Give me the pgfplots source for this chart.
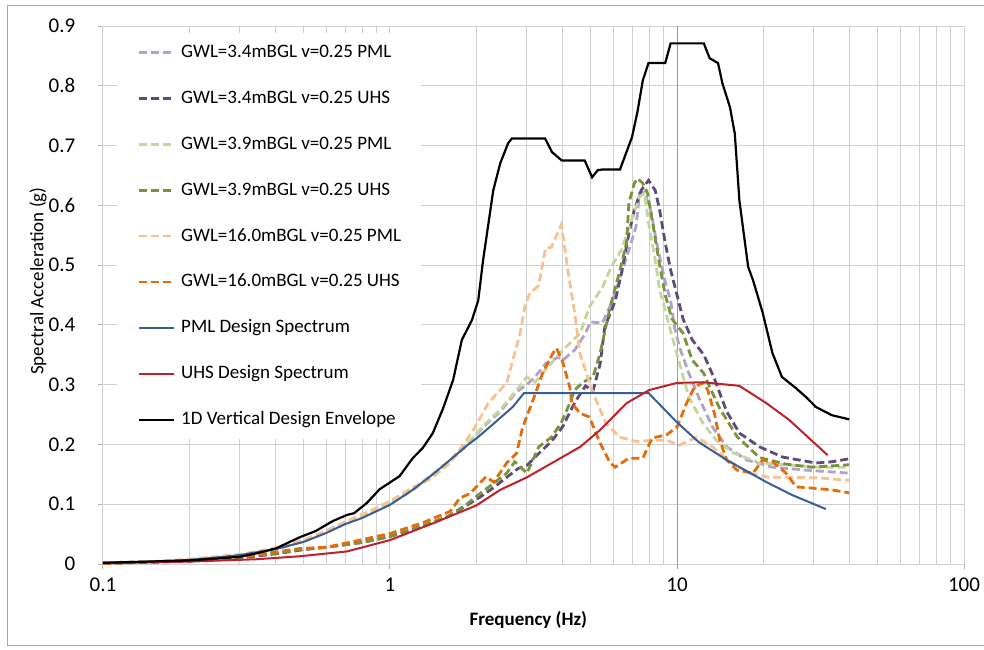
\documentclass[border=0pt]{standalone}
\usepackage{pgfplots}
\pgfplotsset{compat=1.18}
\usepackage{fontspec}
\setmainfont{Carlito}
\definecolor{lpurple}{HTML}{B3A2C7}
\definecolor{dpurple}{HTML}{604A7B}
\definecolor{lgreen}{HTML}{C3D69B}
\definecolor{dgreen}{HTML}{77933C}
\definecolor{lorange}{HTML}{FAC090}
\definecolor{dorange}{HTML}{E46C0A}
\definecolor{pmlblue}{HTML}{376092}
\definecolor{uhsred}{HTML}{C0202A}
\definecolor{gridc}{HTML}{D0D0D0}
\begin{document}
\fontsize{9.5}{11.4}\selectfont
\begin{tikzpicture}
\begin{axis}[
 xmode=log, scale only axis, width=430.5pt, height=269pt,
 xmin=0.1, xmax=100, ymin=0, ymax=0.9,
 xtick={0.1,1,10,100}, xticklabels={0.1,1,10,100},
 minor xtick={0.2,0.3,0.4,0.5,0.6,0.7,0.8,0.9,2,3,4,5,6,7,8,9,20,30,40,50,60,70,80,90},
 extra x ticks={10}, extra x tick labels={}, extra x tick style={grid=major, major grid style={draw=gray!80, line width=0.5pt}, tick style={draw=gray!80}},
 ytick={0,0.1,0.2,0.3,0.4,0.5,0.6,0.7,0.8,0.9},
 yticklabels={0,0.1,0.2,0.3,0.4,0.5,0.6,0.7,0.8,0.9},
 xmajorgrids, xminorgrids, ymajorgrids,
 grid style={draw=gridc, line width=0.5pt},
 minor grid style={draw=gridc, line width=0.5pt},
 axis line style={draw=gridc, line width=0.5pt},
 tick align=outside, xtick pos=bottom, ytick pos=left,
 major tick length=2.5pt, minor tick length=0pt,
 tick style={draw=gray!60, line width=0.5pt},
 ticklabel style={font=\fontsize{10.5}{12}\selectfont},
 /pgf/number format/assume math mode=true,
 yticklabel style={xshift=-8pt},
 xticklabel style={yshift=-1pt},
 xlabel={\textbf{Frequency (Hz)}}, ylabel={Spectral Acceleration (g)},
 xlabel style={at={(axis description cs:0.494,-0.104)}, anchor=center, font=\fontsize{9.5}{11}\selectfont},
 ylabel style={at={(axis description cs:-0.0755,0.526)}, anchor=center, font=\fontsize{9.5}{11}\selectfont},
 legend style={at={(axis description cs:0,1)}, anchor=north west, xshift=7pt, yshift=-3.5pt,
   fill=white, draw=none, inner xsep=10pt, inner ysep=5pt, row sep=13.95pt, column sep=3pt,
   nodes={inner sep=0pt, text height=7pt, text depth=2pt, font=\fontsize{9.5}{11}\selectfont}},
 legend cell align=left,
 legend image code/.code={\draw[#1, line cap=butt] (0pt,0pt) -- (17.5pt,0pt);},
 dsh/.style={line width=1.4pt, dash pattern=on 4pt off 2pt, line cap=butt},
]
% GWL=3.4 PML
\addplot[dsh, lpurple] coordinates {(0.1,0.002)(0.15,0.004)(0.2,0.007)(0.3,0.015)(0.4,0.025)(0.5,0.038)(0.6,0.053)(0.7,0.068)(0.8,0.079)(1.0,0.100)(1.2,0.124)(1.4,0.148)(1.6,0.170)(1.85,0.198)(2.1,0.228)(2.42,0.255)(2.76,0.288)(3.0,0.300)(3.2,0.313)(3.5,0.336)(3.85,0.346)(4.0,0.341)(4.4,0.358)(4.8,0.386)(5.0,0.405)(5.5,0.403)(5.9,0.436)(6.3,0.475)(6.67,0.513)(6.97,0.542)(7.2,0.564)(7.4,0.620)(7.7,0.622)(8.1,0.592)(8.5,0.537)(8.9,0.492)(9.2,0.463)(9.5,0.441)(9.8,0.396)(10.2,0.363)(11.0,0.319)(11.9,0.279)(13.3,0.229)(14.9,0.196)(17.5,0.174)(21.5,0.162)(28.2,0.157)(39.8,0.152)};
\addlegendentry{GWL=3.4mBGL v=0.25 PML}
% GWL=3.4 UHS
\addplot[dsh, dpurple] coordinates {(0.1,0.001)(0.2,0.005)(0.3,0.010)(0.4,0.017)(0.5,0.024)(0.6,0.028)(0.8,0.036)(1.0,0.046)(1.3,0.063)(1.6,0.080)(1.85,0.098)(2.06,0.112)(2.3,0.128)(2.55,0.145)(2.8,0.160)(3.0,0.165)(3.3,0.185)(3.65,0.205)(4.0,0.230)(4.4,0.270)(4.8,0.298)(5.1,0.290)(5.4,0.335)(5.6,0.396)(6.1,0.441)(6.4,0.486)(6.8,0.553)(7.1,0.592)(7.5,0.625)(7.96,0.642)(8.4,0.625)(8.7,0.592)(9.1,0.537)(9.5,0.492)(10.0,0.450)(10.5,0.410)(11.3,0.375)(12.4,0.350)(13.5,0.310)(14.9,0.255)(16.5,0.219)(19.4,0.196)(23.3,0.179)(30.4,0.169)(34.6,0.171)(39.8,0.176)};
\addlegendentry{GWL=3.4mBGL v=0.25 UHS}
% GWL=3.9 PML
\addplot[dsh, lgreen] coordinates {(0.1,0.002)(0.15,0.004)(0.2,0.007)(0.3,0.015)(0.4,0.025)(0.5,0.038)(0.6,0.053)(0.7,0.068)(0.8,0.080)(1.0,0.101)(1.2,0.125)(1.4,0.150)(1.6,0.172)(1.85,0.200)(2.1,0.230)(2.42,0.258)(2.76,0.291)(3.0,0.313)(3.2,0.304)(3.65,0.336)(4.0,0.358)(4.6,0.386)(4.95,0.430)(5.5,0.463)(5.9,0.497)(6.4,0.525)(7.0,0.580)(7.4,0.614)(7.7,0.620)(8.0,0.564)(8.4,0.508)(8.7,0.458)(9.1,0.425)(9.5,0.390)(10.2,0.336)(11.0,0.279)(12.3,0.236)(13.7,0.207)(15.7,0.186)(19.4,0.169)(24.0,0.166)(31.2,0.162)(39.8,0.162)};
\addlegendentry{GWL=3.9mBGL v=0.25 PML}
% GWL=3.9 UHS
\addplot[dsh, dgreen] coordinates {(0.1,0.001)(0.2,0.005)(0.3,0.011)(0.4,0.018)(0.5,0.025)(0.6,0.028)(0.8,0.036)(1.0,0.046)(1.3,0.064)(1.6,0.080)(1.85,0.100)(2.06,0.118)(2.3,0.135)(2.55,0.152)(2.72,0.171)(3.0,0.152)(3.3,0.196)(3.65,0.212)(3.95,0.236)(4.23,0.269)(4.4,0.291)(4.7,0.304)(5.1,0.313)(5.4,0.353)(5.85,0.430)(6.33,0.492)(6.67,0.537)(6.8,0.604)(7.1,0.637)(7.3,0.645)(7.6,0.637)(7.9,0.620)(8.3,0.560)(8.7,0.500)(9.1,0.450)(9.6,0.410)(10.5,0.386)(11.3,0.341)(12.4,0.319)(13.0,0.296)(14.1,0.260)(16.2,0.213)(19.4,0.178)(24.0,0.167)(29.5,0.162)(39.8,0.166)};
\addlegendentry{GWL=3.9mBGL v=0.25 UHS}
% GWL=16.0 PML
\addplot[dsh, lorange] coordinates {(0.1,0.002)(0.15,0.004)(0.2,0.008)(0.3,0.016)(0.4,0.027)(0.5,0.040)(0.6,0.056)(0.7,0.071)(0.8,0.083)(1.0,0.105)(1.2,0.128)(1.38,0.142)(1.62,0.169)(1.78,0.196)(1.98,0.229)(2.2,0.269)(2.42,0.291)(2.55,0.303)(2.68,0.341)(2.84,0.386)(2.95,0.430)(3.07,0.453)(3.3,0.466)(3.48,0.528)(3.65,0.530)(3.95,0.567)(4.06,0.530)(4.2,0.480)(4.4,0.420)(4.6,0.350)(5.1,0.286)(5.66,0.235)(6.33,0.212)(7.2,0.205)(8.2,0.207)(9.2,0.207)(10.2,0.199)(11.7,0.212)(13.3,0.196)(15.3,0.171)(17.9,0.152)(21.0,0.145)(26.0,0.145)(31.2,0.144)(39.8,0.140)};
\addlegendentry{GWL=16.0mBGL v=0.25 PML}
% GWL=16.0 UHS
\addplot[dsh, dorange] coordinates {(0.1,0.001)(0.2,0.005)(0.3,0.012)(0.4,0.020)(0.486,0.026)(0.6,0.028)(0.786,0.040)(1.0,0.051)(1.3,0.069)(1.62,0.088)(1.75,0.110)(1.9,0.118)(2.16,0.146)(2.3,0.137)(2.55,0.169)(2.76,0.185)(2.9,0.229)(3.15,0.274)(3.4,0.319)(3.7,0.353)(3.8,0.361)(3.98,0.341)(4.23,0.296)(4.3,0.269)(4.6,0.252)(4.95,0.246)(5.4,0.202)(5.85,0.169)(6.1,0.162)(6.8,0.177)(7.6,0.177)(8.2,0.211)(9.2,0.216)(10.0,0.229)(10.8,0.269)(11.5,0.296)(12.3,0.303)(12.8,0.291)(13.5,0.252)(14.1,0.207)(14.9,0.174)(16.2,0.157)(18.4,0.152)(19.9,0.174)(21.5,0.171)(24.0,0.152)(26.0,0.129)(29.5,0.127)(34.6,0.124)(39.8,0.119)};
\addlegendentry{GWL=16.0mBGL v=0.25 UHS}
% PML design
\addplot[pmlblue, line width=1pt] coordinates {(0.1,0.002)(0.15,0.004)(0.2,0.007)(0.25,0.011)(0.3,0.015)(0.4,0.025)(0.5,0.037)(0.6,0.052)(0.7,0.067)(0.8,0.077)(1.0,0.099)(1.2,0.124)(1.41,0.150)(1.6,0.172)(1.85,0.198)(2.0,0.210)(2.3,0.235)(2.68,0.263)(2.93,0.286)(7.96,0.286)(10,0.237)(11.9,0.204)(14.9,0.174)(20.5,0.137)(25.3,0.115)(33,0.092)};
\addlegendentry{PML Design Spectrum}
% UHS design
\addplot[uhsred, line width=1pt] coordinates {(0.1,0.001)(0.2,0.004)(0.344,0.008)(0.486,0.013)(0.708,0.021)(1.0,0.040)(1.41,0.068)(2.0,0.098)(2.42,0.124)(3.0,0.145)(4.6,0.196)(5.39,0.224)(6.67,0.269)(8.0,0.291)(10,0.303)(12.4,0.304)(16.5,0.298)(20.5,0.269)(24.6,0.241)(33.5,0.182)};
\addlegendentry{UHS Design Spectrum}
% 1D vertical envelope
\addplot[black, line width=1.1pt] coordinates {(0.1,0.002)(0.2,0.006)(0.3,0.012)(0.344,0.018)(0.4,0.026)(0.486,0.045)(0.55,0.055)(0.633,0.072)(0.708,0.082)(0.75,0.085)(0.83,0.102)(0.92,0.125)(1.08,0.147)(1.2,0.177)(1.3,0.194)(1.41,0.219)(1.53,0.260)(1.66,0.308)(1.78,0.375)(1.93,0.408)(2.03,0.441)(2.11,0.508)(2.29,0.625)(2.42,0.670)(2.58,0.704)(2.66,0.712)(3.47,0.712)(3.67,0.689)(3.97,0.675)(4.77,0.675)(5.06,0.647)(5.3,0.659)(5.5,0.660)(6.33,0.660)(6.97,0.714)(7.3,0.759)(7.6,0.809)(7.96,0.838)(9.1,0.838)(9.5,0.871)(12.4,0.871)(13.0,0.846)(13.9,0.838)(14.4,0.804)(15.3,0.764)(15.9,0.720)(16.5,0.608)(17.7,0.497)(18.4,0.475)(19.9,0.420)(21.5,0.353)(23.2,0.313)(25.7,0.296)(28.2,0.279)(30.4,0.263)(34.6,0.249)(39.8,0.242)};
\addlegendentry{1D Vertical Design Envelope}
\end{axis}
\draw[gray!70, line width=0.5pt] (445pt,279pt) -- (-47.5pt,279pt) -- (-47.5pt,-40.5pt) -- (445pt,-40.5pt);
\pgfresetboundingbox
\useasboundingbox (-51.5pt,-42.5pt) rectangle (440.5pt,282pt);
\end{tikzpicture}
\end{document}
